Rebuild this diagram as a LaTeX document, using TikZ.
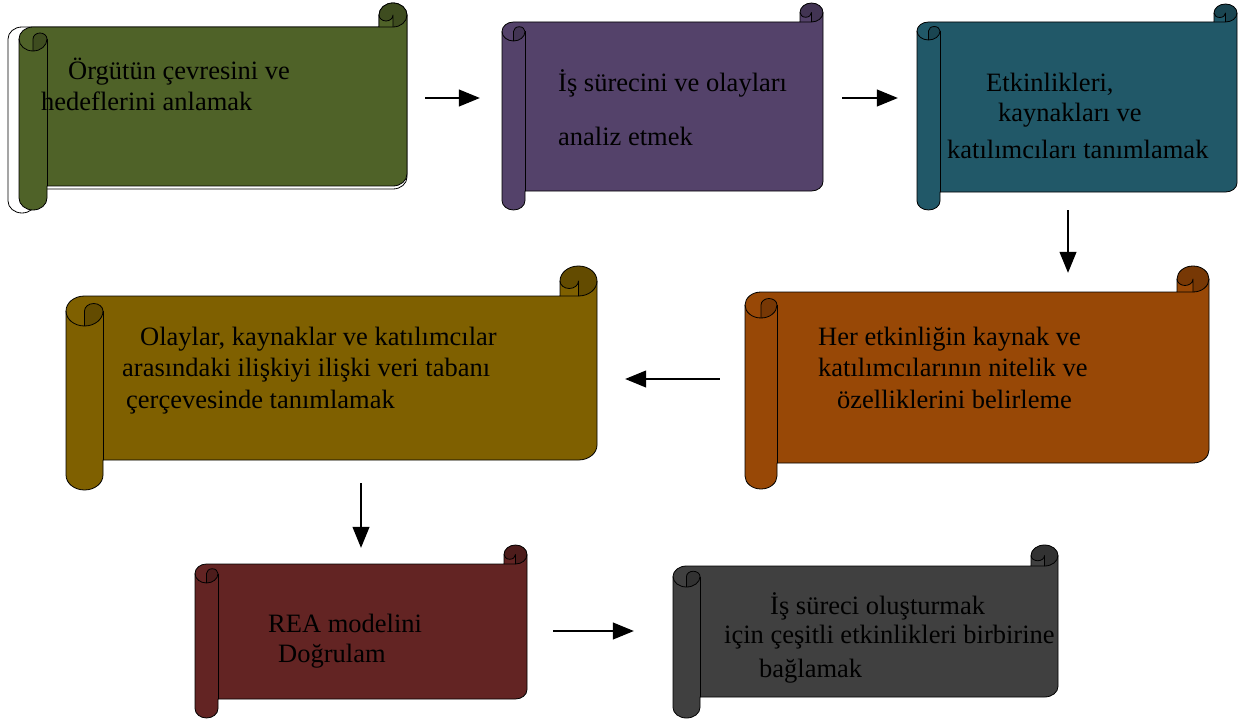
\documentclass[tikz,border=0pt]{standalone}
\usepackage{fontspec}
\setmainfont{Liberation Serif}
\usepackage{xcolor}
\definecolor{scgreen}{RGB}{79,98,40}
\definecolor{scpurple}{RGB}{84,66,106}
\definecolor{scteal}{RGB}{33,88,104}
\definecolor{scorange}{RGB}{152,72,6}
\definecolor{scgold}{RGB}{127,96,0}
\definecolor{scred}{RGB}{99,36,35}
\definecolor{scgray}{RGB}{64,64,64}
\usetikzlibrary{arrows.meta,calc,fit}
\tikzset{
  sc_line/.style={draw=black,line width=0.8pt,line join=round},
  sc_box/.style={inner sep=0pt,draw=none},
  sc_txt/.style={align=left,anchor=base west,inner sep=0pt,text=black,
    font=\fontsize{26.5}{31.5}\selectfont},
  arr/.style={-{Triangle[length=21pt,width=17pt]},line width=1.1pt,draw=black},
}
% scroll geometry: l t r b cx cy
\newcommand{\scrollset}[6]{%
  \pgfmathsetmacro{\sxl}{#1}\pgfmathsetmacro{\sxr}{#3}%
  \pgfmathsetmacro{\sxa}{#1+#5/2}\pgfmathsetmacro{\sxb}{#1+#5}%
  \pgfmathsetmacro{\sxc}{#3-#5}\pgfmathsetmacro{\sxd}{#3-#5/2}%
  \pgfmathsetmacro{\sya}{#2+#6/2}\pgfmathsetmacro{\syb}{#2+#6}%
  \pgfmathsetmacro{\syc}{#2+1.5*#6}\pgfmathsetmacro{\syd}{#2+2*#6}%
  \pgfmathsetmacro{\sye}{#4-1.5*#6}\pgfmathsetmacro{\syf}{#4-#6}%
  \pgfmathsetmacro{\syg}{#4-#6/2}%
  \pgfmathsetmacro{\srx}{#5/2}\pgfmathsetmacro{\sry}{#6/2}%
  \pgfmathsetmacro{\sqx}{#5/4}\pgfmathsetmacro{\sqy}{#6/4}}
\newcommand{\scrollpath}{%
  (\sxl,\syc) arc[start angle=180,end angle=270,x radius=\srx,y radius=\sry]
  -- (\sxc,\syb) -- (\sxc,\sya)
  arc[start angle=180,end angle=360,x radius=\srx,y radius=\sry]
  -- (\sxr,\sye) arc[start angle=0,end angle=90,x radius=\srx,y radius=\sry]
  -- (\sxb,\syf) -- (\sxb,\syg)
  arc[start angle=0,end angle=180,x radius=\srx,y radius=\sry] -- cycle}
% name, l, t, r, b, cx, cy, colour
\newcommand{\hscroll}[8]{%
  \scrollset{#2}{#3}{#4}{#5}{#6}{#7}
  \fill[#8] \scrollpath;
  \fill[#8!78!black] (\sxd,\syb)
    arc[start angle=90,end angle=-180,x radius=\srx,y radius=\sry]
    arc[start angle=180,end angle=0,x radius=\sqx,y radius=\sqy] -- cycle;
  \fill[#8!78!black] (\sxa,\syd)
    arc[start angle=90,end angle=0,x radius=\srx,y radius=\sry]
    arc[start angle=0,end angle=-180,x radius=\sqx,y radius=\sqy] -- cycle;
  \draw[sc_line] \scrollpath;
  \draw[sc_line] (\sxc,\syb) -- (\sxd,\syb)
    arc[start angle=90,end angle=0,x radius=\srx,y radius=\sry];
  \draw[sc_line] (\sxd,\syb) -- (\sxd,\sya)
    arc[start angle=0,end angle=180,x radius=\sqx,y radius=\sqy];
  \draw[sc_line] (\sxa,\syd) -- (\sxa,\syc)
    arc[start angle=180,end angle=360,x radius=\sqx,y radius=\sqy]
    arc[start angle=0,end angle=180,x radius=\srx,y radius=\sry];
  \draw[sc_line] (\sxb,\syc) -- (\sxb,\syf);
  \node[sc_box,fit={(#2,#3)(#4,#5)}] (#1) {};
}
\begin{document}
\begin{tikzpicture}[x=1pt,y=-1pt]
  \useasboundingbox (0,0) rectangle (1241,722);
  % shadow outline behind the first scroll
  \scrollset{8}{3}{407}{213}{28}{24}
  \draw[sc_line,fill=white] \scrollpath;
  \hscroll{s1}{19}{3}{407}{210}{28}{24}{scgreen}
  \hscroll{s2}{502}{3}{823}{210}{23}{19}{scpurple}
  \hscroll{s3}{917}{4}{1237}{210}{23}{18}{scteal}
  \hscroll{s4}{745}{266}{1209}{489}{32}{26}{scorange}
  \hscroll{s5}{66}{266}{597}{490}{37}{30}{scgold}
  \hscroll{s6}{195}{545}{527}{718}{23}{19}{scred}
  \hscroll{s7}{673}{545}{1058}{718}{27}{21}{scgray}

  % text blocks, placed on the baseline of their last line
  \node[sc_txt] (t1) at (41,111)
    {\hspace*{27pt}Örgütün çevresini ve\\ hedeflerini anlamak};
  \node[sc_txt] (t2) at (558,146)
    {İş sürecini ve olayları\\[23pt] analiz etmek};
  \node[sc_txt] (t3) at (947,159)
    {\hspace*{39pt}Etkinlikleri,\\[-2pt] \hspace*{51pt}kaynakları ve\\[6pt]
     katılımcıları tanımlamak};
  \node[sc_txt] (t4) at (818,408)
    {Her etkinliğin kaynak ve\\ katılımcılarının nitelik ve\\
     \hspace*{19pt}özelliklerini belirleme};
  \node[sc_txt] (t5) at (122,408)
    {\hspace*{18pt}Olaylar, kaynaklar ve katılımcılar\\
     arasındaki ilişkiyi ilişki veri tabanı\\ \hspace*{4pt}çerçevesinde tanımlamak};
  \node[sc_txt] (t6) at (268,662)
    {REA modelini\\[-1.5pt] \hspace*{10pt}Doğrulam};
  \node[sc_txt] (t7) at (724,677)
    {\hspace*{46pt}İş süreci oluşturmak\\[-2.5pt] için çeşitli etkinlikleri birbirine\\[2.5pt]
     \hspace*{35pt}bağlamak};

  \draw[arr] ($(s1.east)+(18,-8.5)$) -- ($(s2.west)+(-22,-8.5)$);
  \draw[arr] ($(s2.east)+(19,-8.5)$) -- ($(s3.west)+(-19,-9)$);
  \draw[arr] ($(s3.south)+(-9,0)$) -- ($(s4.north)+(91,7)$);
  \draw[arr] ($(s4.west)+(-25,1.5)$) -- ($(s5.east)+(28,1)$);
  \draw[arr] ($(s5.south)+(29.5,-7)$) -- ($(s6.north)+(0,3)$);
  \draw[arr] ($(s6.east)+(26,-0.5)$) -- ($(s7.west)+(-39,-0.5)$);
\end{tikzpicture}
\end{document}
